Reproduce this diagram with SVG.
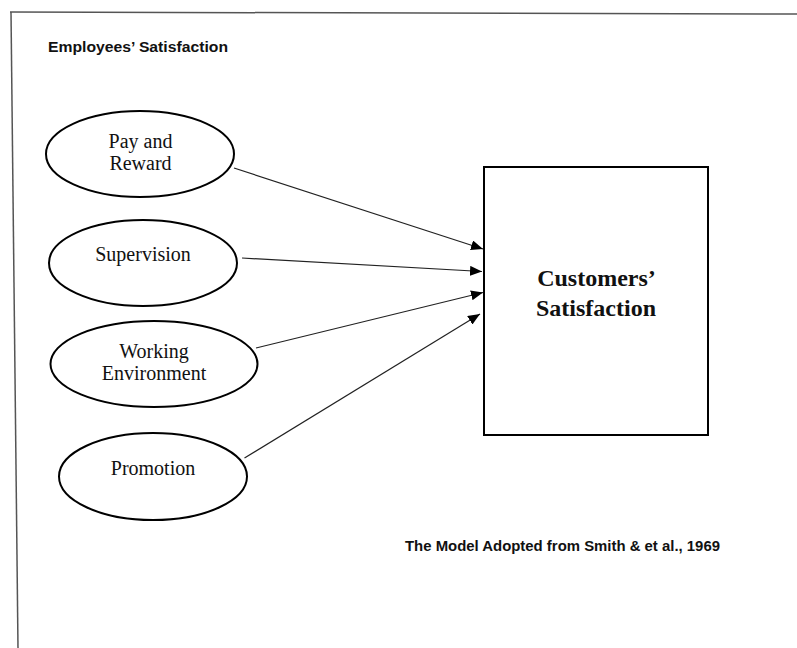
<svg xmlns="http://www.w3.org/2000/svg" width="797" height="648" viewBox="0 0 797 648">
<style>
.frame{stroke:#555;stroke-width:1.5;fill:none}
.node ellipse{fill:#fff;stroke:#000;stroke-width:2}
.node rect{fill:#fff;stroke:#000;stroke-width:2}
.lbl{font-family:"Liberation Serif","Times New Roman",serif;font-size:20px;fill:#111;text-anchor:middle}
.big{font-family:"Liberation Serif","Times New Roman",serif;font-size:24px;font-weight:bold;fill:#111;text-anchor:middle}
.cap{font-family:"Liberation Sans",Arial,sans-serif;font-size:14px;font-weight:bold;fill:#111}
.conn line{stroke:#222;stroke-width:1.2;marker-end:url(#arr)}
</style>
<defs>
<marker id="arr" viewBox="0 0 12 10" refX="12" refY="5" markerWidth="12" markerHeight="10" markerUnits="userSpaceOnUse" orient="auto">
<path d="M0,0 L12,5 L0,10 Z" fill="#000"/>
</marker>
</defs>
<rect width="797" height="648" fill="#fff"/>
<g id="frame">
<line class="frame" x1="10" y1="12" x2="797" y2="14"/>
<line class="frame" x1="11" y1="12" x2="18" y2="648"/>
</g>
<text class="cap" x="48" y="52" textLength="180" lengthAdjust="spacingAndGlyphs">Employees’ Satisfaction</text>
<g id="pay" class="node">
<ellipse cx="140" cy="154" rx="94" ry="43"/>
<text class="lbl" x="140.5" y="148">Pay and</text>
<text class="lbl" x="140.5" y="170">Reward</text>
</g>
<g id="supervision" class="node">
<ellipse cx="143" cy="263" rx="94" ry="43"/>
<text class="lbl" x="143" y="261">Supervision</text>
</g>
<g id="working" class="node">
<ellipse cx="154" cy="364" rx="103.5" ry="43"/>
<text class="lbl" x="154" y="358">Working</text>
<text class="lbl" x="154" y="380">Environment</text>
</g>
<g id="promotion" class="node">
<ellipse cx="153" cy="476.5" rx="94" ry="43.5"/>
<text class="lbl" x="153" y="475">Promotion</text>
</g>
<g id="customers" class="node">
<rect x="484" y="167" width="224" height="268"/>
<text class="big" x="596.5" y="286">Customers’</text>
<text class="big" x="596" y="316">Satisfaction</text>
</g>
<g id="connectors" class="conn">
<line x1="234" y1="168" x2="483" y2="249"/>
<line x1="242" y1="258" x2="482" y2="271.5"/>
<line x1="256" y1="348" x2="483" y2="292.5"/>
<line x1="244.5" y1="458" x2="480" y2="314"/>
</g>
<text class="cap" x="405" y="551" textLength="315" lengthAdjust="spacingAndGlyphs">The Model Adopted from Smith &amp; et al., 1969</text>
</svg>
